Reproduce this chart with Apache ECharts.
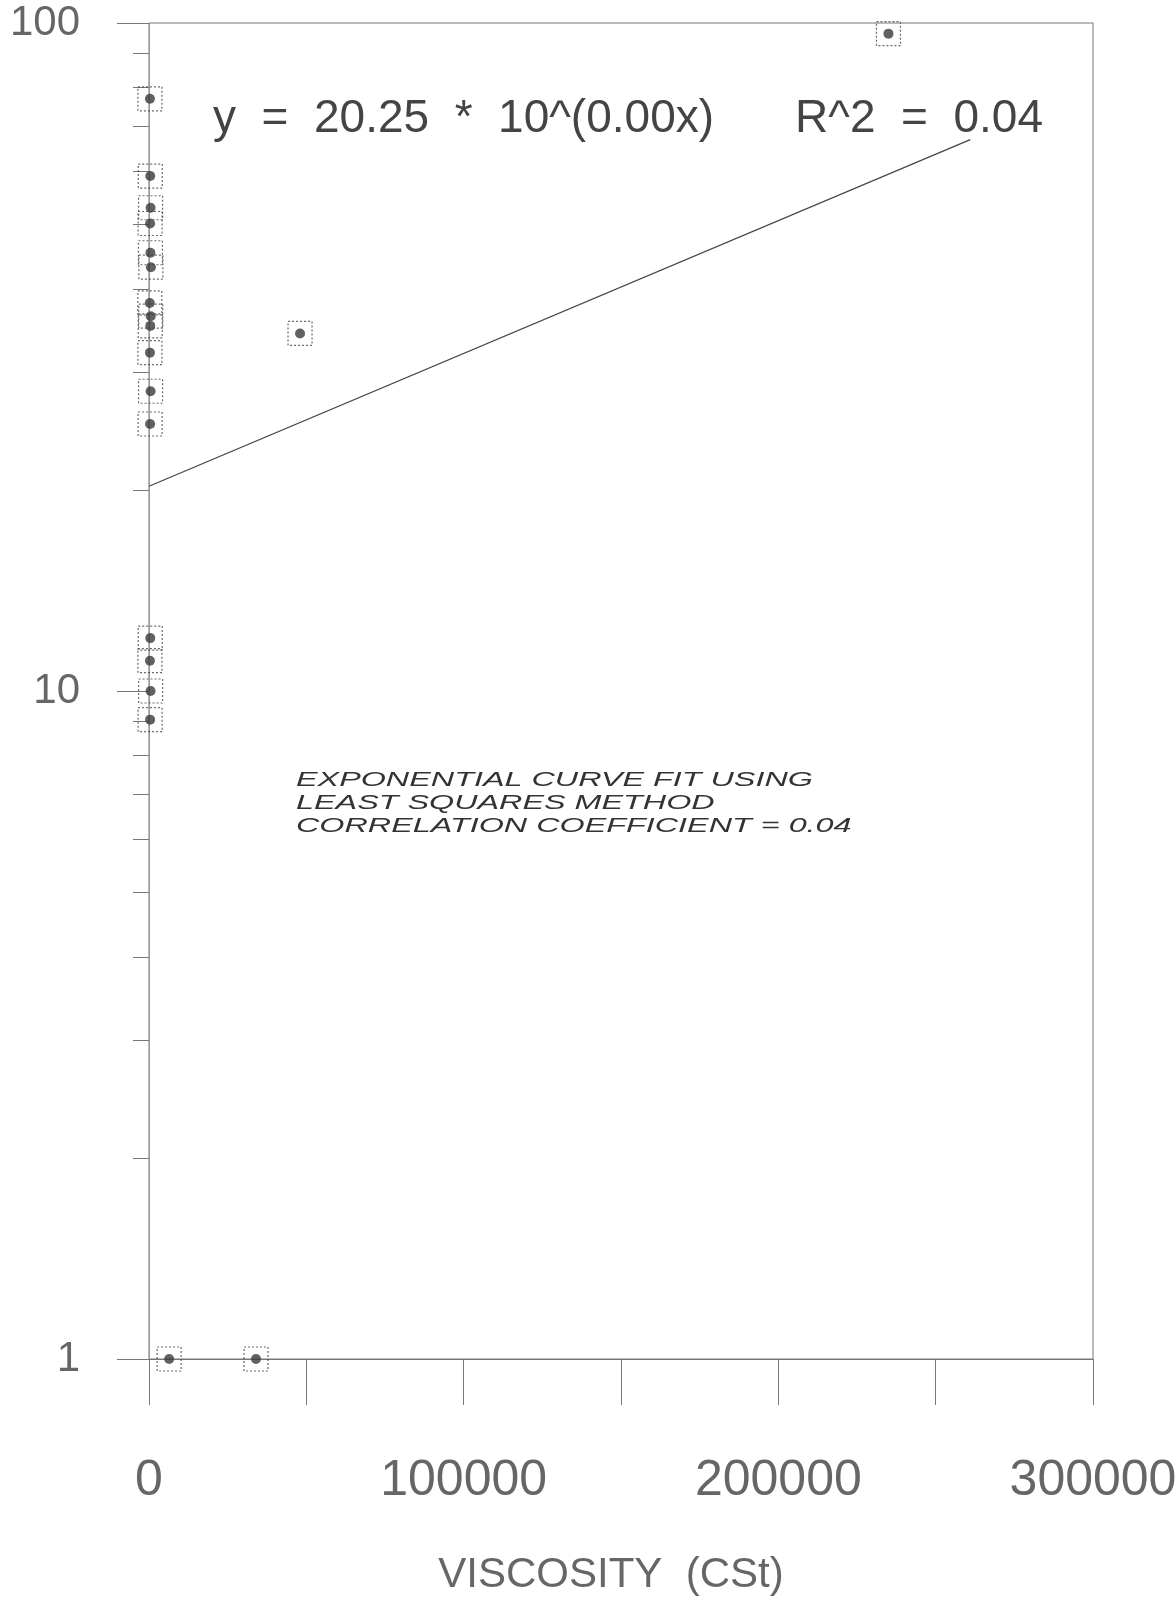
<!DOCTYPE html>
<html>
<head>
<meta charset="utf-8">
<script src="https://cdn.jsdelivr.net/npm/echarts@6/dist/echarts.min.js"></script>
<style>
html,body{margin:0;padding:0;background:#fff;}
#chart{width:1175px;height:1600px;}
</style>
</head>
<body>
<div id="chart"></div>
<script>
// ---- data ----
const viscosity = [300, 400, 500, 350, 450, 600, 250, 550, 400, 300, 500, 350,
                   48000, 235000,
                   400, 300, 500, 350,
                   6400, 34000];
const value = [77.0, 59.0, 52.9, 50.1, 45.3, 43.1, 38.1, 36.4, 35.2, 32.1, 28.1, 25.1,
               34.3, 96.4,
               12.0, 11.1, 10.0, 9.06,
               1, 1];
const fitX = [0, 261000];
const fitY = [20.25, 66.9];
const xTickLabels = [0, 100000, 200000, 300000];
const yTickLabels = [1, 10, 100];
const yMinorTicks = [2, 3, 4, 5, 6, 7, 8, 9, 20, 30, 40, 50, 60, 70, 80, 90];
const equationText = 'y  =  20.25  *  10^(0.00x)';
const r2Text = 'R^2  =  0.04';
const noteText = 'EXPONENTIAL CURVE FIT USING\nLEAST SQUARES METHOD\nCORRELATION COEFFICIENT = 0.04';
const xAxisTitle = 'VISCOSITY  (CSt)';

const points = viscosity.map((v, i) => [v, value[i]]);
const fitLine = fitX.map((v, i) => [v, fitY[i]]);

const sans = "'Liberation Sans', Arial, sans-serif";
const lineCol = '#777';

const chart = echarts.init(document.getElementById('chart'), null, {renderer: 'canvas'});
chart.setOption({
  backgroundColor: '#fff',
  animation: false,
  grid: {left: 149, right: 82, top: 23, bottom: 241, containLabel: false, outerBoundsMode: 'none',
         show: true, borderColor: lineCol, borderWidth: 1, backgroundColor: 'transparent'},
  xAxis: {
    type: 'value', min: 0, max: 300000, interval: 50000,
    axisLine: {show: true, onZero: false, lineStyle: {color: lineCol, width: 1}},
    axisTick: {show: true, inside: false, length: 46, lineStyle: {color: lineCol, width: 1}},
    splitLine: {show: false},
    axisLabel: {
      fontFamily: sans, fontSize: 50, color: '#666', margin: 122, verticalAlign: 'middle',
      formatter: v => (xTickLabels.indexOf(v) >= 0 ? String(v) : '')
    },
    name: xAxisTitle, nameLocation: 'middle', nameGap: 216,
    nameTextStyle: {fontFamily: sans, fontSize: 42, color: '#666', verticalAlign: 'middle', padding: [0, 20, 0, 0]}
  },
  yAxis: [{
    type: 'log', logBase: 10, min: 1, max: 100,
    axisLine: {show: true, onZero: false, lineStyle: {color: '#999', width: 1}},
    axisTick: {show: true, inside: false, length: 32, lineStyle: {color: lineCol, width: 1}},
    splitLine: {show: false},
    axisLabel: {fontFamily: sans, fontSize: 42, color: '#666', margin: 69,
      formatter: v => (yTickLabels.indexOf(Math.round(v)) >= 0 ? String(Math.round(v)) : '')}
  }, {
    type: 'log', logBase: 10, min: 1, max: 100, position: 'left',
    axisLine: {show: false},
    axisTick: {show: true, inside: false, length: 16, customValues: yMinorTicks, lineStyle: {color: lineCol, width: 1}},
    axisLabel: {show: false},
    splitLine: {show: false}
  }],
  series: [{
    type: 'line', data: fitLine, symbol: 'none', silent: true,
    lineStyle: {color: '#444', width: 1.2}
  }, {
    type: 'scatter', data: points, symbol: 'rect', symbolSize: 24, clip: false,
    itemStyle: {color: 'rgba(0,0,0,0)', borderColor: '#444', borderWidth: 1.2, borderType: [2, 2]}
  }, {
    type: 'scatter', data: points, symbol: 'circle', symbolSize: 10, clip: false,
    itemStyle: {color: '#3a3a3a'}
  }],
  graphic: [{
    type: 'text', x: 213, y: 119,
    style: {text: equationText, font: '46px "Liberation Sans", Arial, sans-serif', fill: '#444', verticalAlign: 'middle', align: 'left'}
  }, {
    type: 'text', x: 1043, y: 119,
    style: {text: r2Text, font: '46px "Liberation Sans", Arial, sans-serif', fill: '#444', verticalAlign: 'middle', align: 'right'}
  }, {
    type: 'text', x: 296, y: 769, scaleX: 1.54,
    style: {text: noteText, font: 'italic 21px "Liberation Sans", Arial, sans-serif', lineHeight: 23, fill: '#333', verticalAlign: 'top', align: 'left'}
  }]
});
</script>
</body>
</html>
